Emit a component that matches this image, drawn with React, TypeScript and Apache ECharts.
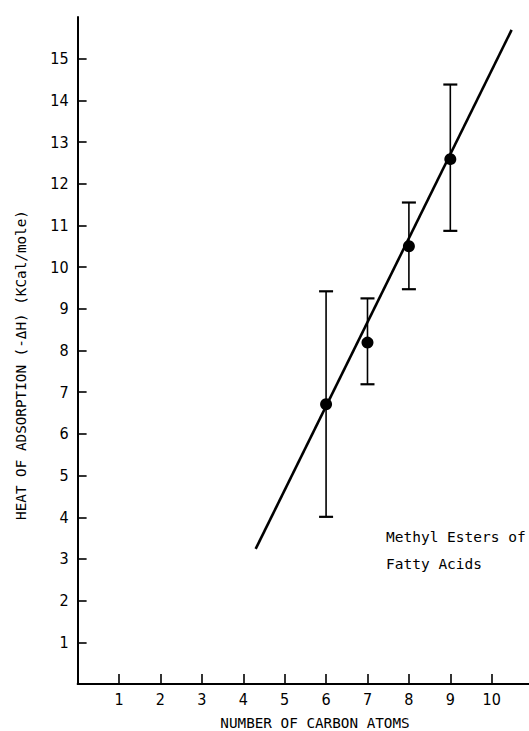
import React, { useEffect, useRef } from "react";
import * as echarts from "echarts";

const xTicks = [1, 2, 3, 4, 5, 6, 7, 8, 9, 10];
const yTicks = [1, 2, 3, 4, 5, 6, 7, 8, 9, 10, 11, 12, 13, 14, 15];

const carbonAtoms = [6, 7, 8, 9];
const heatValues = [6.71, 8.19, 10.5, 12.59];
const errLow = [4.01, 7.19, 9.47, 10.87];
const errHigh = [9.42, 9.25, 11.55, 14.38];

const fitX = [4.3, 10.48];
const fitY = [3.24, 15.69];

const xTitle = "NUMBER OF CARBON ATOMS";
const yTitle = "HEAT OF ADSORPTION (-\u0394H) (KCal/mole)";
const noteLines = ["Methyl Esters of", "Fatty Acids"];

const condensed = "'Liberation Sans Narrow', 'DejaVu Sans Condensed', 'Roboto Condensed', 'Liberation Sans', sans-serif";
const mono = "'DejaVu Sans Mono', 'Liberation Mono', monospace";

export default function App() {
  const ref = useRef<HTMLDivElement>(null);
  useEffect(() => {
    if (!ref.current) return;
    const chart = echarts.init(ref.current, null, { renderer: "svg" });
    const errData = carbonAtoms.map((c, i) => [c, errLow[i], errHigh[i]]);
    chart.setOption({
      animation: false,
      backgroundColor: "#ffffff",
      grid: { left: 77.6, top: 17, width: 451.4, height: 667 },
      xAxis: {
        type: "value",
        min: 0,
        max: 10.9,
        interval: 1,
        splitLine: { show: false },
        axisLine: { show: true, onZero: false, lineStyle: { color: "#000", width: 2 } },
        axisTick: { show: true, inside: true, length: 10, customValues: xTicks, lineStyle: { color: "#000", width: 1.6 } },
        axisLabel: { customValues: xTicks, color: "#000", fontFamily: condensed, fontSize: 16, margin: 7 },
      },
      yAxis: {
        type: "value",
        min: 0,
        max: 16,
        interval: 1,
        splitLine: { show: false },
        axisLine: { show: true, onZero: false, lineStyle: { color: "#000", width: 2 } },
        axisTick: { show: true, inside: true, length: 9, customValues: yTicks, lineStyle: { color: "#000", width: 1.6 } },
        axisLabel: { customValues: yTicks, color: "#000", fontFamily: condensed, fontSize: 16, margin: 9 },
      },
      graphic: [
        {
          type: "text",
          x: 315,
          y: 723,
          style: { text: xTitle, fill: "#000", font: `14.3px ${mono}`, align: "center", verticalAlign: "middle" },
        },
        {
          type: "text",
          x: 21,
          y: 365,
          rotation: Math.PI / 2,
          style: { text: yTitle, fill: "#000", font: `14.3px ${mono}`, align: "center", verticalAlign: "middle" },
        },
        {
          type: "text",
          x: 386,
          y: 537,
          style: { text: noteLines[0], fill: "#000", font: `14.5px ${mono}`, verticalAlign: "middle" },
        },
        {
          type: "text",
          x: 386,
          y: 564,
          style: { text: noteLines[1], fill: "#000", font: `14.5px ${mono}`, verticalAlign: "middle" },
        },
      ],
      series: [
        {
          type: "line",
          data: fitX.map((x, i) => [x, fitY[i]]),
          symbol: "none",
          lineStyle: { color: "#000", width: 2.6 },
          z: 2,
        },
        {
          type: "custom",
          data: errData,
          z: 3,
          renderItem: (params: any, api: any) => {
            const x = api.value(0);
            const lo = api.coord([x, api.value(1)]);
            const hi = api.coord([x, api.value(2)]);
            const hw = 7;
            return {
              type: "group",
              children: [
                { type: "line", shape: { x1: lo[0], y1: lo[1], x2: hi[0], y2: hi[1] }, style: { stroke: "#000", lineWidth: 1.6 } },
                { type: "line", shape: { x1: hi[0] - hw, y1: hi[1], x2: hi[0] + hw, y2: hi[1] }, style: { stroke: "#000", lineWidth: 2.2 } },
                { type: "line", shape: { x1: lo[0] - hw, y1: lo[1], x2: lo[0] + hw, y2: lo[1] }, style: { stroke: "#000", lineWidth: 2.2 } },
              ],
            };
          },
        },
        {
          type: "scatter",
          data: carbonAtoms.map((c, i) => [c, heatValues[i]]),
          symbol: "circle",
          symbolSize: 12,
          itemStyle: { color: "#000", opacity: 1 },
          z: 4,
        },
      ],
    });
    return () => chart.dispose();
  }, []);
  return (
    <div
      ref={ref}
      style={{ position: "fixed", left: 0, top: 0, width: 529, height: 731, background: "#fff" }}
    />
  );
}
